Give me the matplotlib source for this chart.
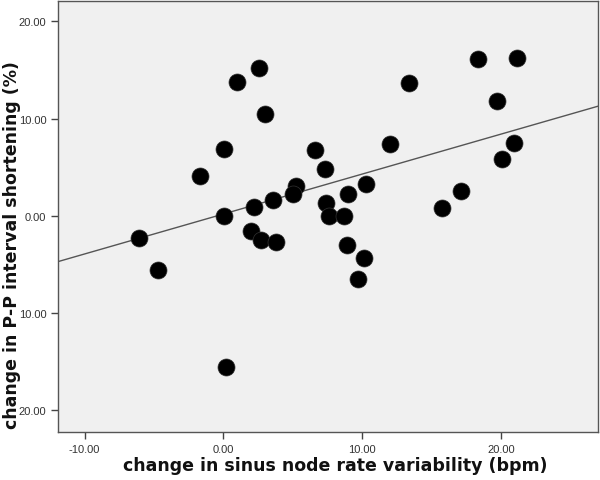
import numpy as np
import matplotlib.pyplot as plt

plt.rcParams["font.family"] = ["Liberation Sans", "DejaVu Sans"]

# change in sinus node rate variability (bpm)
rate_var = [2.56, 0.98, 3.0, 0.02, -1.72, 6.57, 7.34, 12.0, 13.38, 18.34,
            21.17, 19.73, 20.93, 20.09, 10.27, 17.14, 9.0, 5.22, 5.0, -6.08,
            -4.69, 0.02, 2.18, 3.57, 7.41, 7.63, 8.71, 1.99, 2.73, 3.76,
            8.94, 10.13, 9.73, 15.73, 0.22]
# change in P-P interval shortening (%)
pp_short = [15.2, 13.76, 10.5, 6.9, 4.15, 6.82, 4.84, 7.38, 13.68, 16.08,
            16.22, 11.83, 7.48, 5.86, 3.29, 2.54, 2.26, 3.06, 2.26, -2.29,
            -5.56, -0.03, 0.9, 1.62, 1.31, 0.03, -0.03, -1.51, -2.44, -2.71,
            -2.98, -4.35, -6.48, 0.85, -15.57]

x_ticks = [-10, 0, 10, 20]
x_ticklabels = ["-10.00", "0.00", "10.00", "20.00"]
y_ticks = [20, 10, 0, -10, -20]
y_ticklabels = ["20.00", "10.00", "0.00", "10.00", "20.00"]

XLIM = (-11.9, 27.0)
YLIM = (-22.2, 22.1)

fig = plt.figure(figsize=(6.0, 4.81), dpi=100)
ax = fig.add_axes([0.097, 0.1, 0.9, 0.896])
ax.set_facecolor("#f0f0f0")

x = np.array(rate_var)
y = np.array(pp_short)
slope, intercept = np.polyfit(x, y, 1)
xs = np.array(XLIM)
ax.plot(xs, intercept + slope * xs, color="#555555", lw=1.0, zorder=2)

ax.scatter(x, y, s=150, color="black", edgecolors="#333333", linewidths=0.5, zorder=3)

ax.set_xlim(*XLIM)
ax.set_ylim(*YLIM)
ax.set_xticks(x_ticks)
ax.set_xticklabels(x_ticklabels)
ax.set_yticks(y_ticks)
ax.set_yticklabels(y_ticklabels)
ax.tick_params(direction="out", length=5, width=1, color="#444444",
               labelsize=8, labelcolor="#333333")

for s in ax.spines.values():
    s.set_color("#555555")
    s.set_linewidth(1.0)

ax.set_xlabel("change in sinus node rate variability (bpm)", fontsize=12.5,
              fontweight="bold", family="DejaVu Sans", color="#111111")
ax.set_ylabel("change in P-P interval shortening (%)", fontsize=12.5,
              fontweight="bold", family="DejaVu Sans", color="#111111")
ax.xaxis.set_label_coords(0.513, -0.057)
ax.yaxis.set_label_coords(-0.068, 0.435)

fig.savefig("out.png", dpi=100, facecolor="white")
